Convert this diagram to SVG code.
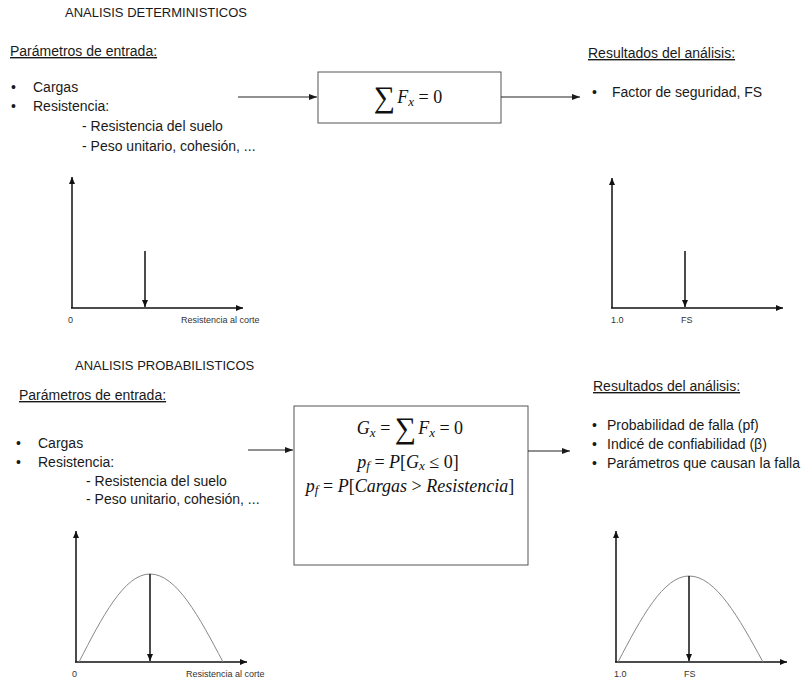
<svg xmlns="http://www.w3.org/2000/svg" width="811" height="678" viewBox="0 0 811 678">
<style>
.t{font-family:"Liberation Sans",Arial,sans-serif;font-size:14px;fill:#1a1a1a}
.h{font-size:13px}
.u{text-decoration:underline}
.s{font-family:"Liberation Sans",Arial,sans-serif;font-size:9px;fill:#333}
.m{font-family:"Liberation Serif","DejaVu Serif",serif;font-size:18px;fill:#111}
.i{font-style:italic}
.sb{font-size:13px}
.sum{font-size:30px;font-style:normal}
.ln{stroke:#222;stroke-width:1.2;fill:none}
.ax{stroke:#111;stroke-width:1.5;fill:none}
.box{fill:#fff;stroke:#555;stroke-width:1}
.cv{stroke:#888;stroke-width:1;fill:none}
</style>
<defs>
<marker id="ah" viewBox="0 0 8 6" refX="8" refY="3" markerWidth="8" markerHeight="6" markerUnits="userSpaceOnUse" orient="auto">
<path d="M0,0 L8,3 L0,6 z" fill="#1a1a1a"/>
</marker>
<marker id="ah2" viewBox="0 0 7 6" refX="7" refY="3" markerWidth="7" markerHeight="6" markerUnits="userSpaceOnUse" orient="auto">
<path d="M0,0 L7,3 L0,6 z" fill="#111"/>
</marker>
</defs>
<rect width="811" height="678" fill="#fff"/>

<!-- Deterministic section -->
<g id="title-det"><text class="t h" x="65" y="17">ANALISIS DETERMINISTICOS</text></g>
<g id="input-det">
<text class="t u" x="10" y="56">Parámetros de entrada:</text>
<text class="t" x="11" y="92">•</text><text class="t" x="33" y="92">Cargas</text>
<text class="t" x="11" y="111">•</text><text class="t" x="33" y="111">Resistencia:</text>
<text class="t" x="82" y="131">- Resistencia del suelo</text>
<text class="t" x="82" y="151">- Peso unitario, cohesión, ...</text>
</g>
<g id="box-det">
<rect class="box" x="318" y="72" width="183" height="51"/>
<text class="m" x="408" y="103" text-anchor="middle"><tspan class="sum" dy="4">∑</tspan><tspan class="i" dy="-4" dx="2">F</tspan><tspan class="i sb" dy="3">x</tspan><tspan dy="-3"> = 0</tspan></text>
</g>
<g id="result-det">
<text class="t u" x="588" y="58">Resultados del análisis:</text>
<text class="t" x="592" y="97">•</text><text class="t" x="612" y="97">Factor de seguridad, FS</text>
</g>
<g id="plot-det-in">
<line class="ax" x1="72" y1="308" x2="72" y2="177" marker-end="url(#ah2)"/>
<line class="ax" x1="71" y1="308" x2="243" y2="308" marker-end="url(#ah2)"/>
<line class="ax" x1="145" y1="251" x2="145" y2="307" marker-end="url(#ah2)"/>
<text class="s" x="68" y="323">0</text>
<text class="s" x="181" y="323">Resistencia al corte</text>
</g>
<g id="plot-det-out">
<line class="ax" x1="612" y1="308" x2="612" y2="178" marker-end="url(#ah2)"/>
<line class="ax" x1="611" y1="308" x2="783" y2="308" marker-end="url(#ah2)"/>
<line class="ax" x1="685" y1="251" x2="685" y2="307" marker-end="url(#ah2)"/>
<text class="s" x="611" y="323">1.0</text>
<text class="s" x="681" y="323">FS</text>
</g>

<!-- Probabilistic section -->
<g id="title-prob"><text class="t h" x="75" y="370">ANALISIS PROBABILISTICOS</text></g>
<g id="input-prob">
<text class="t u" x="19" y="400">Parámetros de entrada:</text>
<text class="t" x="16" y="448">•</text><text class="t" x="38" y="448">Cargas</text>
<text class="t" x="16" y="467">•</text><text class="t" x="38" y="467">Resistencia:</text>
<text class="t" x="86" y="486">- Resistencia del suelo</text>
<text class="t" x="86" y="504">- Peso unitario, cohesión, ...</text>
</g>
<g id="box-prob">
<rect class="box" x="294" y="406" width="234" height="159"/>
<text class="m" x="410" y="434" text-anchor="middle"><tspan class="i">G</tspan><tspan class="i sb" dy="3">x</tspan><tspan dy="-3"> = </tspan><tspan class="sum" dy="4">∑</tspan><tspan class="i" dy="-4" dx="2">F</tspan><tspan class="i sb" dy="3">x</tspan><tspan dy="-3"> = 0</tspan></text>
<text class="m" x="408" y="468" text-anchor="middle"><tspan class="i">p</tspan><tspan class="i sb" dy="2">f</tspan><tspan dy="-2"> = </tspan><tspan class="i">P</tspan><tspan>[</tspan><tspan class="i">G</tspan><tspan class="i sb" dy="2">x</tspan><tspan dy="-2"> ≤ 0]</tspan></text>
<text class="m" x="410" y="492" text-anchor="middle"><tspan class="i">p</tspan><tspan class="i sb" dy="2">f</tspan><tspan dy="-2"> = </tspan><tspan class="i">P</tspan><tspan>[</tspan><tspan class="i">Cargas</tspan><tspan> &gt; </tspan><tspan class="i">Resistencia</tspan><tspan>]</tspan></text>
</g>
<g id="result-prob">
<text class="t u" x="593" y="391">Resultados del análisis:</text>
<text class="t" x="592" y="430">•</text><text class="t" x="607" y="430">Probabilidad de falla (pf)</text>
<text class="t" x="592" y="449">•</text><text class="t" x="607" y="449">Indicé de confiabilidad (β)</text>
<text class="t" x="592" y="468">•</text><text class="t" x="607" y="468">Parámetros que causan la falla</text>
</g>
<g id="plot-prob-in">
<line class="ax" x1="76" y1="662" x2="76" y2="531" marker-end="url(#ah2)"/>
<line class="ax" x1="75" y1="662" x2="247" y2="662" marker-end="url(#ah2)"/>
<path class="cv" d="M79,662 C102.2,616.9 124.3,574 150,574 C176.4,574 199.2,616.9 223,662"/>
<line class="ax" x1="150" y1="574" x2="150" y2="661" marker-end="url(#ah2)"/>
<text class="s" x="72" y="677">0</text>
<text class="s" x="186" y="677">Resistencia al corte</text>
</g>
<g id="plot-prob-out">
<line class="ax" x1="616" y1="662" x2="616" y2="531" marker-end="url(#ah2)"/>
<line class="ax" x1="615" y1="662" x2="787" y2="662" marker-end="url(#ah2)"/>
<path class="cv" d="M618,662 C641.2,617.9 663.3,576 689,576 C715.8,576 738.9,617.9 763,662"/>
<line class="ax" x1="689" y1="576" x2="689" y2="661" marker-end="url(#ah2)"/>
<text class="s" x="614" y="677">1.0</text>
<text class="s" x="684" y="677">FS</text>
</g>

<g id="connectors">
<line class="ln" x1="238" y1="97" x2="317" y2="97" marker-end="url(#ah)"/>
<line class="ln" x1="501" y1="97" x2="580" y2="97" marker-end="url(#ah)"/>
<line class="ln" x1="248" y1="450" x2="293" y2="450" marker-end="url(#ah)"/>
<line class="ln" x1="528" y1="451" x2="570" y2="451" marker-end="url(#ah)"/>
</g>
</svg>
